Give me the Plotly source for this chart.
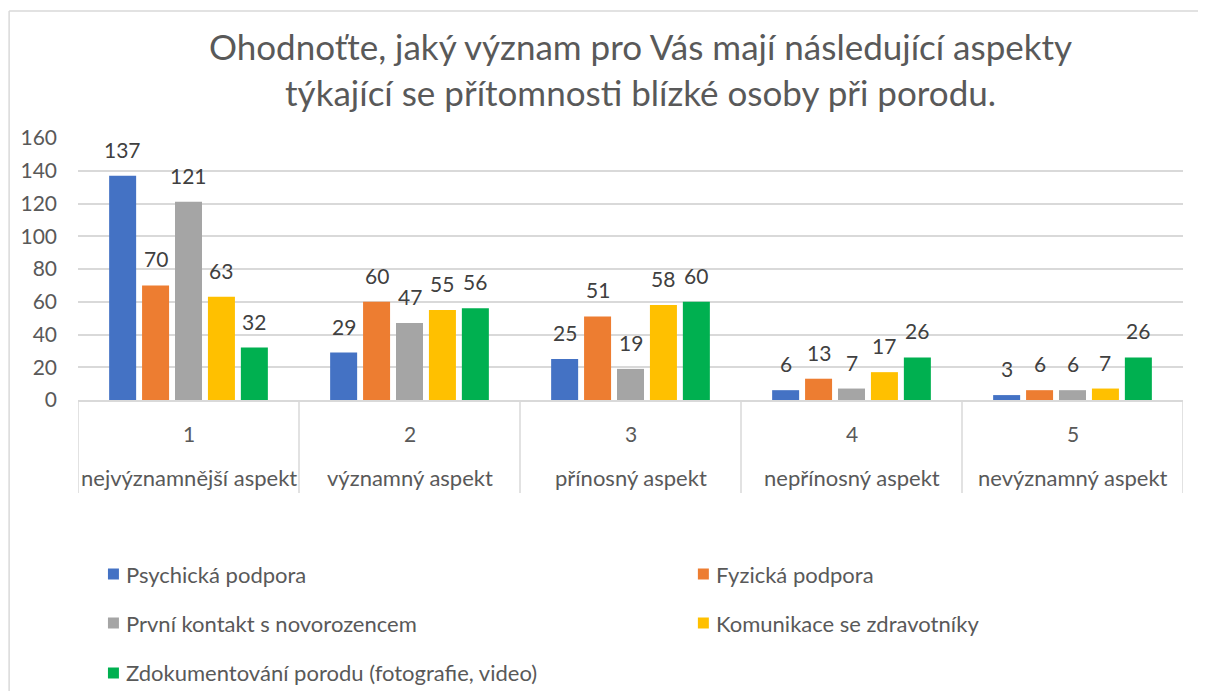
import plotly.graph_objects as go

# ---------------- data ----------------
levels = ["1", "2", "3", "4", "5"]
level_names = ["nejvýznamnější aspekt", "významný aspekt", "přínosný aspekt",
               "nepřínosný aspekt", "nevýznamný aspekt"]
series_names = ["Psychická podpora", "Fyzická podpora", "První kontakt s novorozencem",
                "Komunikace se zdravotníky", "Zdokumentování porodu (fotografie, video)"]
psychicka = [137, 29, 25, 6, 3]
fyzicka = [70, 60, 51, 13, 6]
prvni_kontakt = [121, 47, 19, 7, 6]
komunikace = [63, 55, 58, 17, 7]
zdokumentovani = [32, 56, 60, 26, 26]
series_values = [psychicka, fyzicka, prvni_kontakt, komunikace, zdokumentovani]
colors = ["#4472C4", "#ED7D31", "#A5A5A5", "#FFC000", "#00B050"]
title_lines = ["Ohodnoťte, jaký význam pro Vás mají následující aspekty",
               "týkající se přítomnosti blízké osoby při porodu."]
y_ticks = [0, 20, 40, 60, 80, 100, 120, 140, 160]

# ---------------- layout constants (page pixels) ----------------
OFF = 8                       # default page body margin
PAGE_W, PAGE_H = 1206, 691
W, H = PAGE_W - OFF, PAGE_H - OFF
PLOT_L, PLOT_R, PLOT_T, PLOT_B = 76, 1183, 138, 400   # in page pixels
ML, MR = PLOT_L - OFF, PAGE_W - PLOT_R
MT, MB = PLOT_T - OFF, PAGE_H - PLOT_B
PW, PH = PLOT_R - PLOT_L, PLOT_B - PLOT_T
FONT = "Lato, 'Open Sans', sans-serif"
TXT = "#595959"
LINE = "#D9D9D9"
BARGAP = 0.255
GROUPGAP = 0.18


def px(xp):
    return (xp - PLOT_L) / PW


def py(yp):
    return (PLOT_B - yp) / PH


xs = list(range(len(levels)))
fig = go.Figure()
for name, vals, col in zip(series_names, series_values, colors):
    fig.add_trace(go.Bar(x=xs, y=vals, name=name, marker_color=col,
                         marker_line_width=0, showlegend=False,
                         hovertemplate=name + ": %{y}<extra></extra>"))

annotations = []
shapes = []
n = len(series_names)
slot = (1 - BARGAP) / n
for k, vals in enumerate(series_values):
    for i, v in enumerate(vals):
        xc = i - (1 - BARGAP) / 2 + slot * (k + 0.5)
        annotations.append(dict(x=xc, y=v, xref="x", yref="y", text=str(v),
                                showarrow=False, yanchor="bottom", yshift=12,
                                font=dict(family=FONT, size=21, color="#404040")))

# category axis labels (two levels) + dividers
for i, (lv, nm) in enumerate(zip(levels, level_names)):
    annotations.append(dict(x=i, y=py(433), xref="x", yref="paper", text=lv,
                            showarrow=False, yanchor="middle",
                            font=dict(family=FONT, size=21, color=TXT)))
    annotations.append(dict(x=i, y=py(477), xref="x", yref="paper", text=nm,
                            showarrow=False, yanchor="middle",
                            font=dict(family=FONT, size=22, color=TXT)))
for i in range(len(levels) + 1):
    shapes.append(dict(type="line", xref="x", yref="paper", x0=i - 0.5, x1=i - 0.5,
                       y0=0, y1=py(493), line=dict(color=LINE, width=1.5)))

# legend (manual, two columns)
leg_pos = [(106, 574), (697, 574), (106, 623), (697, 623), (106, 673)]
for (lx, ly), name, col in zip(leg_pos, series_names, colors):
    shapes.append(dict(type="rect", xref="paper", yref="paper",
                       x0=px(lx), x1=px(lx + 11), y0=py(ly - 5.5), y1=py(ly + 5.5),
                       fillcolor=col, line=dict(width=0)))
    annotations.append(dict(x=px(lx + 16), y=py(ly), xref="paper", yref="paper",
                            text=name, showarrow=False, xanchor="left", yanchor="middle",
                            font=dict(family=FONT, size=22, color=TXT)))

# title
annotations.append(dict(x=px(640), y=py(69), xref="paper", yref="paper",
                        text="<br>".join(title_lines), showarrow=False,
                        xanchor="center", yanchor="middle", align="center",
                        font=dict(family=FONT, size=35, color=TXT)))

# chart frame
shapes.append(dict(type="line", xref="paper", yref="paper", x0=px(7), x1=px(7),
                   y0=py(11), y1=py(PAGE_H + 2), line=dict(color=LINE, width=1.5)))
shapes.append(dict(type="line", xref="paper", yref="paper", x0=px(7), x1=px(PAGE_W + 2),
                   y0=py(11), y1=py(11), line=dict(color=LINE, width=1.5)))

fig.update_layout(
    width=W, height=H,
    margin=dict(l=ML, r=MR, t=MT, b=MB),
    paper_bgcolor="white", plot_bgcolor="white",
    barmode="group", bargap=BARGAP, bargroupgap=GROUPGAP,
    xaxis=dict(range=[-0.5, len(levels) - 0.5], showticklabels=False, showgrid=False,
               zeroline=False, showline=True, linecolor=LINE, linewidth=1.5, fixedrange=True),
    yaxis=dict(range=[0, 160], tickvals=y_ticks, showgrid=True, gridcolor=LINE,
               gridwidth=1.5, zeroline=False, showline=False, ticks="",
               ticklabelstandoff=20,
               tickfont=dict(family=FONT, size=21, color=TXT), fixedrange=True),
    annotations=annotations, shapes=shapes,
    font=dict(family=FONT, color=TXT),
    showlegend=False,
)

fig.write_html("out.html")
